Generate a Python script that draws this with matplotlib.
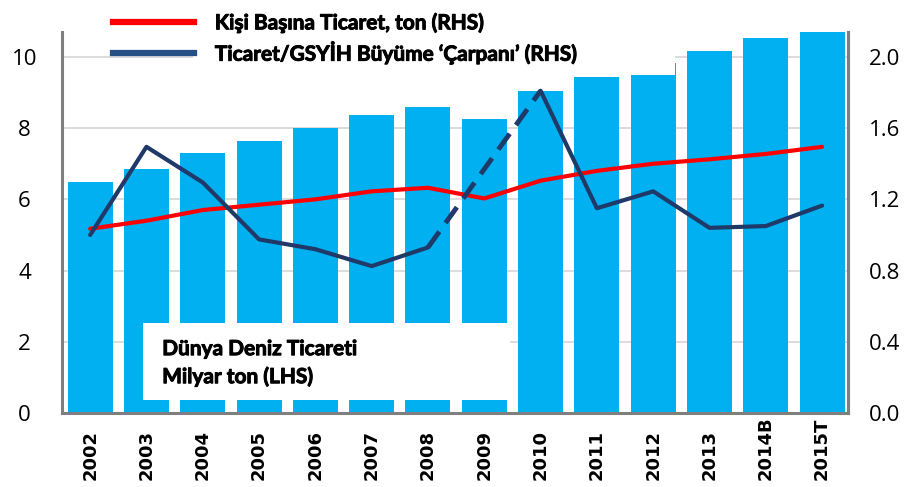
import matplotlib
matplotlib.use("Agg")
import matplotlib.pyplot as plt
from matplotlib.patches import Rectangle
from matplotlib.lines import Line2D
import matplotlib.patheffects as pe
import numpy as np

# data
years = ["2002", "2003", "2004", "2005", "2006", "2007", "2008",
         "2009", "2010", "2011", "2012", "2013", "2014B", "2015T"]
sea_trade = [6.49, 6.84, 7.29, 7.63, 7.99, 8.37, 8.59,
             8.25, 9.04, 9.44, 9.83, 10.17, 10.54, 10.9]     # billion tons (LHS)
per_capita = [1.035, 1.08, 1.14, 1.17, 1.20, 1.245, 1.265,
              1.205, 1.305, 1.36, 1.40, 1.425, 1.455, 1.495]  # tons per person (RHS)
multiplier = [1.0, 1.495, 1.295, 0.975, 0.92, 0.825, 0.93,
              np.nan, 1.81, 1.15, 1.245, 1.04, 1.05, 1.165]   # trade/GDP (RHS)

left_ticks = [0, 2, 4, 6, 8, 10]
right_ticks = [0.0, 0.4, 0.8, 1.2, 1.6, 2.0]

BAR = "#00b0f0"
RED = "#ff0000"
NAVY = "#1f3a68"
SPINE = "#7f7f7f"
narrow = ["Lato", "DejaVu Sans"]
thicken = [pe.withStroke(linewidth=0.7, foreground="black")]

fig = plt.figure(figsize=(9.1, 4.87), dpi=100)
ax = fig.add_axes([62 / 910, 1 - 413 / 487, (848 - 62) / 910, (413 - 32) / 487])
x = np.arange(len(years))

ax.bar(x, sea_trade, width=0.8, color=BAR, zorder=2)
ax.set_xlim(-0.5, 13.46)
ax.set_ylim(0, 10.7)
ax.set_yticks(left_ticks)
ax.set_yticklabels([str(t) for t in left_ticks], family="Open Sans", fontsize=16, ha="center")
ax.tick_params(axis="y", length=0, pad=27)
ax.yaxis.grid(True, color="#d9d9d9", lw=1.3)
ax.set_axisbelow(True)

ax.set_xticks(x)
ax.set_xticklabels(years, rotation=90, va="bottom", ha="center",
                   fontweight="bold", family="DejaVu Sans", fontsize=13)
ax.tick_params(axis="x", length=0, pad=48)

for s in ["left", "right", "bottom"]:
    ax.spines[s].set_color(SPINE)
    ax.spines[s].set_linewidth(2.2)
ax.spines["top"].set_visible(False)

# white boxes that hide part of the bars, as in the source image
ax.add_patch(Rectangle((1.83, 9.48), 10.39 - 1.83, 2.0, facecolor="white",
                       edgecolor="none", zorder=5))
ax.add_patch(Rectangle((0.94, 0.36), 7.46 - 0.94, 2.53 - 0.36, facecolor="white",
                       edgecolor="none", zorder=5))
ax.text(1.28, 1.40, "Dünya Deniz Ticareti\nMilyar ton (LHS)", ha="left", va="center",
        fontsize=15, fontweight="bold", family=narrow, linespacing=1.45, zorder=6,
        path_effects=thicken)

ax2 = ax.twinx()
ax2.set_ylim(0, 2.14)
ax2.set_yticks(right_ticks)
ax2.set_yticklabels([f"{t:.1f}" for t in right_ticks], family="Open Sans", fontsize=16)
ax2.tick_params(axis="y", length=0, pad=15)
for s in ["left", "top", "bottom"]:
    ax2.spines[s].set_visible(False)
ax2.spines["right"].set_color(SPINE)
ax2.spines["right"].set_linewidth(2.2)

ax2.plot(x, per_capita, color=RED, lw=3, solid_capstyle="round", zorder=3)
ax2.plot(x, multiplier, color=NAVY, lw=3, solid_capstyle="round", zorder=4)
# 2009 has no value: dashed bridge from 2008 to 2010
ax2.plot(x[[6, 8]], [multiplier[6], multiplier[8]], color=NAVY, lw=3.5,
         dashes=(4, 2.2), zorder=4)

handles = [Line2D([], [], color=RED, lw=4.5), Line2D([], [], color="#264f86", lw=4.5)]
labels = ["Kişi Başına Ticaret, ton (RHS)", "Ticaret/GSYİH Büyüme ‘Çarpanı’ (RHS)"]
leg = fig.legend(handles, labels, loc="upper left", bbox_to_anchor=(94 / 910, 1 + 6 / 487),
                 frameon=False, handlelength=3.9, handletextpad=1.0, labelspacing=0.4,
                 prop={"family": narrow, "weight": "bold", "size": 15})
for t in leg.get_texts():
    t.set_path_effects(thicken)

fig.savefig("out.png", dpi=100)
